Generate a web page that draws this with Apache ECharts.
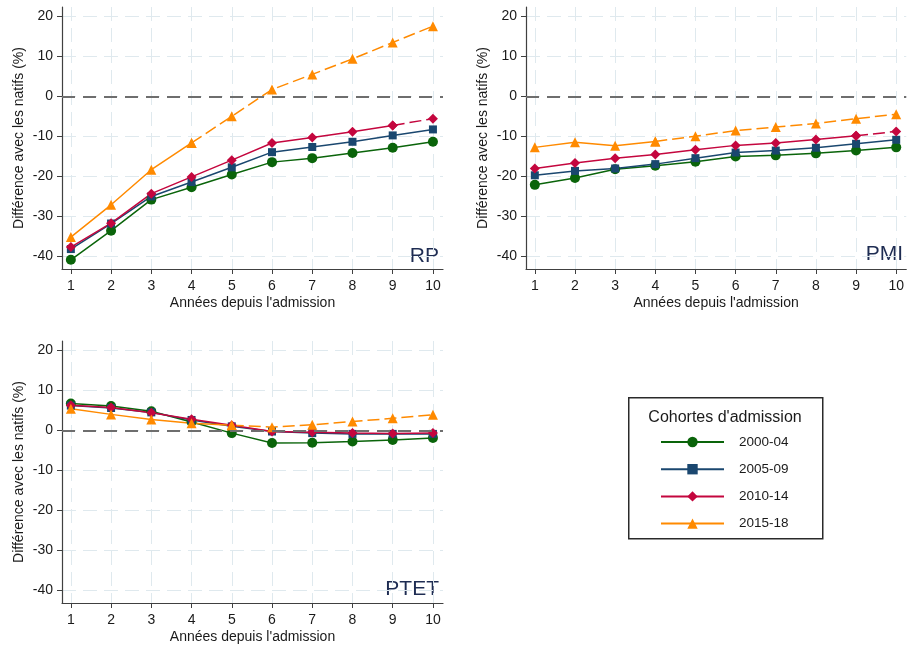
<!DOCTYPE html>
<html>
<head>
<meta charset="utf-8">
<script src="https://cdn.jsdelivr.net/npm/echarts@6/dist/echarts.min.js"></script>
<style>
  html, body { margin: 0; padding: 0; background: #fff; }
  #chart { width: 907px; height: 645px; }
</style>
</head>
<body>
<div id="chart"></div>
<script>
// Years since admission (x axis)
const years = [1, 2, 3, 4, 5, 6, 7, 8, 9, 10];
const yTicks = [-40, -30, -20, -10, 0, 10, 20];
const cohorts = ['2000-04', '2005-09', '2010-14', '2015-18'];
const panels = ['RP', 'PMI', 'PTET'];

// RP: difference with natives (%)
const rp2000 = [-41.0, -33.7, -25.9, -22.8, -19.6, -16.5, -15.5, -14.2, -12.9, -11.4];
const rp2005 = [-38.3, -31.9, -25.1, -21.5, -17.8, -14.0, -12.7, -11.4, -9.8, -8.3];
const rp2010 = [-37.8, -31.8, -24.4, -20.2, -16.0, -11.7, -10.3, -8.9, -7.3, -5.6];
const rp2015 = [-35.3, -27.2, -18.4, -11.7, -5.0, 1.7, 5.5, 9.4, 13.5, 17.6];

// PMI
const pmi2000 = [-22.2, -20.5, -18.3, -17.4, -16.4, -15.1, -14.8, -14.3, -13.6, -12.8];
const pmi2005 = [-19.8, -18.7, -18.1, -17.0, -15.5, -14.1, -13.6, -12.9, -11.9, -10.9];
const pmi2010 = [-18.1, -16.7, -15.5, -14.6, -13.4, -12.3, -11.7, -10.8, -9.9, -8.8];
const pmi2015 = [-12.8, -11.5, -12.4, -11.3, -10.0, -8.6, -7.7, -6.8, -5.6, -4.5];

// PTET
const ptet2000 = [6.7, 6.1, 4.8, 2.1, -0.7, -3.2, -3.1, -2.8, -2.4, -1.9];
const ptet2005 = [6.2, 5.6, 4.5, 2.6, 1.0, -0.3, -0.7, -0.9, -0.9, -0.9];
const ptet2010 = [6.3, 5.7, 4.4, 2.8, 1.3, -0.3, -0.5, -0.7, -0.8, -0.7];
const ptet2015 = [5.4, 4.0, 2.7, 1.8, 1.3, 0.8, 1.4, 2.2, 3.0, 3.9];

const panelValues = [
  [rp2000, rp2005, rp2010, rp2015],
  [pmi2000, pmi2005, pmi2010, pmi2015],
  [ptet2000, ptet2005, ptet2010, ptet2015]
];

// Year from which a cohort's line is drawn dashed (null = solid throughout)
const dashFrom = [
  [null, null, 9, 4],
  [null, null, 9, 4],
  [null, null, null, 5]
];

const colors = ['#0a640a', '#1a476f', '#c4063e', '#ff8a00'];
const symbols = ['circle', 'rect', 'diamond', 'triangle'];
const symbolSizes = [10, 8, 10, 10];

const FONT = '"Liberation Sans", Arial, sans-serif';
const TEXT = '#1a1a1a';
const GRID_COLOR = '#dfe9ee';

const gridBoxes = [
  { left: 62, top: 7, width: 381, height: 262 },
  { left: 526, top: 7, width: 381, height: 262 },
  { left: 62, top: 341, width: 381, height: 262 }
];

const grids = [], xAxes = [], yAxes = [], series = [];

gridBoxes.forEach((g, p) => {
  grids.push(Object.assign({ containLabel: false }, g));
  xAxes.push({
    type: 'value', gridIndex: p, min: 0.78, max: 10.25,
    name: "Années depuis l'admission", nameLocation: 'middle', nameGap: 27,
    nameTextStyle: { fontFamily: FONT, fontSize: 14, color: TEXT },
    axisLine: { show: true, onZero: false, lineStyle: { color: '#404040', width: 1.2 } },
    axisTick: { show: true, length: 5, customValues: years, lineStyle: { color: '#404040' } },
    axisLabel: { customValues: years, margin: 10, fontFamily: FONT, fontSize: 14, color: TEXT },
    splitLine: { show: true, customValues: years, lineStyle: { color: GRID_COLOR, type: [14, 7], width: 1 } }
  });
  yAxes.push({
    type: 'value', gridIndex: p, min: -43.3, max: 22.4,
    name: 'Différence avec les natifs (%)', nameLocation: 'middle', nameGap: 36,
    nameMoveOverlap: false,
    nameTextStyle: { fontFamily: FONT, fontSize: 14, color: TEXT },
    axisLine: { show: true, onZero: false, lineStyle: { color: '#404040', width: 1.2 } },
    axisTick: { show: true, length: 5, customValues: yTicks, lineStyle: { color: '#404040' } },
    axisLabel: { customValues: yTicks, margin: 9, fontFamily: FONT, fontSize: 14, color: TEXT },
    splitLine: { show: true, customValues: yTicks, lineStyle: { color: GRID_COLOR, type: [14, 7], width: 1 } }
  });

  panelValues[p].forEach((vals, c) => {
    const pts = years.map((yr, i) => [yr, vals[i]]);
    const d = dashFrom[p][c];
    const base = {
      type: 'line', name: cohorts[c], xAxisIndex: p, yAxisIndex: p,
      symbol: symbols[c], symbolSize: symbolSizes[c], showSymbol: true,
      itemStyle: { color: colors[c] },
      lineStyle: { color: colors[c], width: 1.5 },
      animation: false
    };
    const solid = Object.assign({}, base, {
      data: d == null ? pts : pts.filter(pt => pt[0] <= d)
    });
    if (c === 0) {
      // dashed reference line at zero difference
      solid.markLine = {
        silent: true, symbol: 'none', label: { show: false },
        lineStyle: { color: '#6e6e6e', type: [13, 8], width: 2 },
        data: [{ yAxis: 0 }]
      };
    }
    series.push(solid);
    if (d != null) {
      series.push(Object.assign({}, base, {
        data: pts.filter(pt => pt[0] >= d),
        lineStyle: { color: colors[c], width: 1.5, type: [12, 5] }
      }));
    }
  });
});

// Panel labels in the lower-right corner of each plot
const panelLabelPos = [[439, 256], [903, 254], [439, 589]];

const chart = echarts.init(document.getElementById('chart'), null, { renderer: 'canvas' });
chart.setOption({
  backgroundColor: '#ffffff',
  animation: false,
  grid: grids,
  xAxis: xAxes,
  yAxis: yAxes,
  series: series,
  legend: {
    data: cohorts,
    orient: 'vertical',
    left: 660, top: 435,
    padding: 0,
    itemWidth: 63, itemHeight: 13, itemGap: 13.2,
    itemStyle: { borderWidth: 0 },
    lineStyle: { width: 2 },
    textStyle: { fontFamily: FONT, fontSize: 13.5, color: TEXT, padding: [0, 0, 0, 10] },
    selectedMode: false
  },
  graphic: [
    {
      type: 'rect', left: 628, top: 397, silent: true,
      shape: { width: 194, height: 141 },
      style: { fill: '#fff', stroke: '#2a2a2a', lineWidth: 1.5 },
      z: -1
    },
    {
      type: 'text', silent: true,
      style: {
        text: "Cohortes d'admission", x: 725, y: 418,
        align: 'center', verticalAlign: 'middle',
        font: '16px ' + FONT, fill: TEXT
      }
    }
  ].concat(panels.map((name, p) => ({
    type: 'text', silent: true,
    style: {
      text: name, x: panelLabelPos[p][0], y: panelLabelPos[p][1],
      align: 'right', verticalAlign: 'middle',
      font: '21px ' + FONT, fill: '#1e2c52'
    }
  })))
});
</script>
</body>
</html>
